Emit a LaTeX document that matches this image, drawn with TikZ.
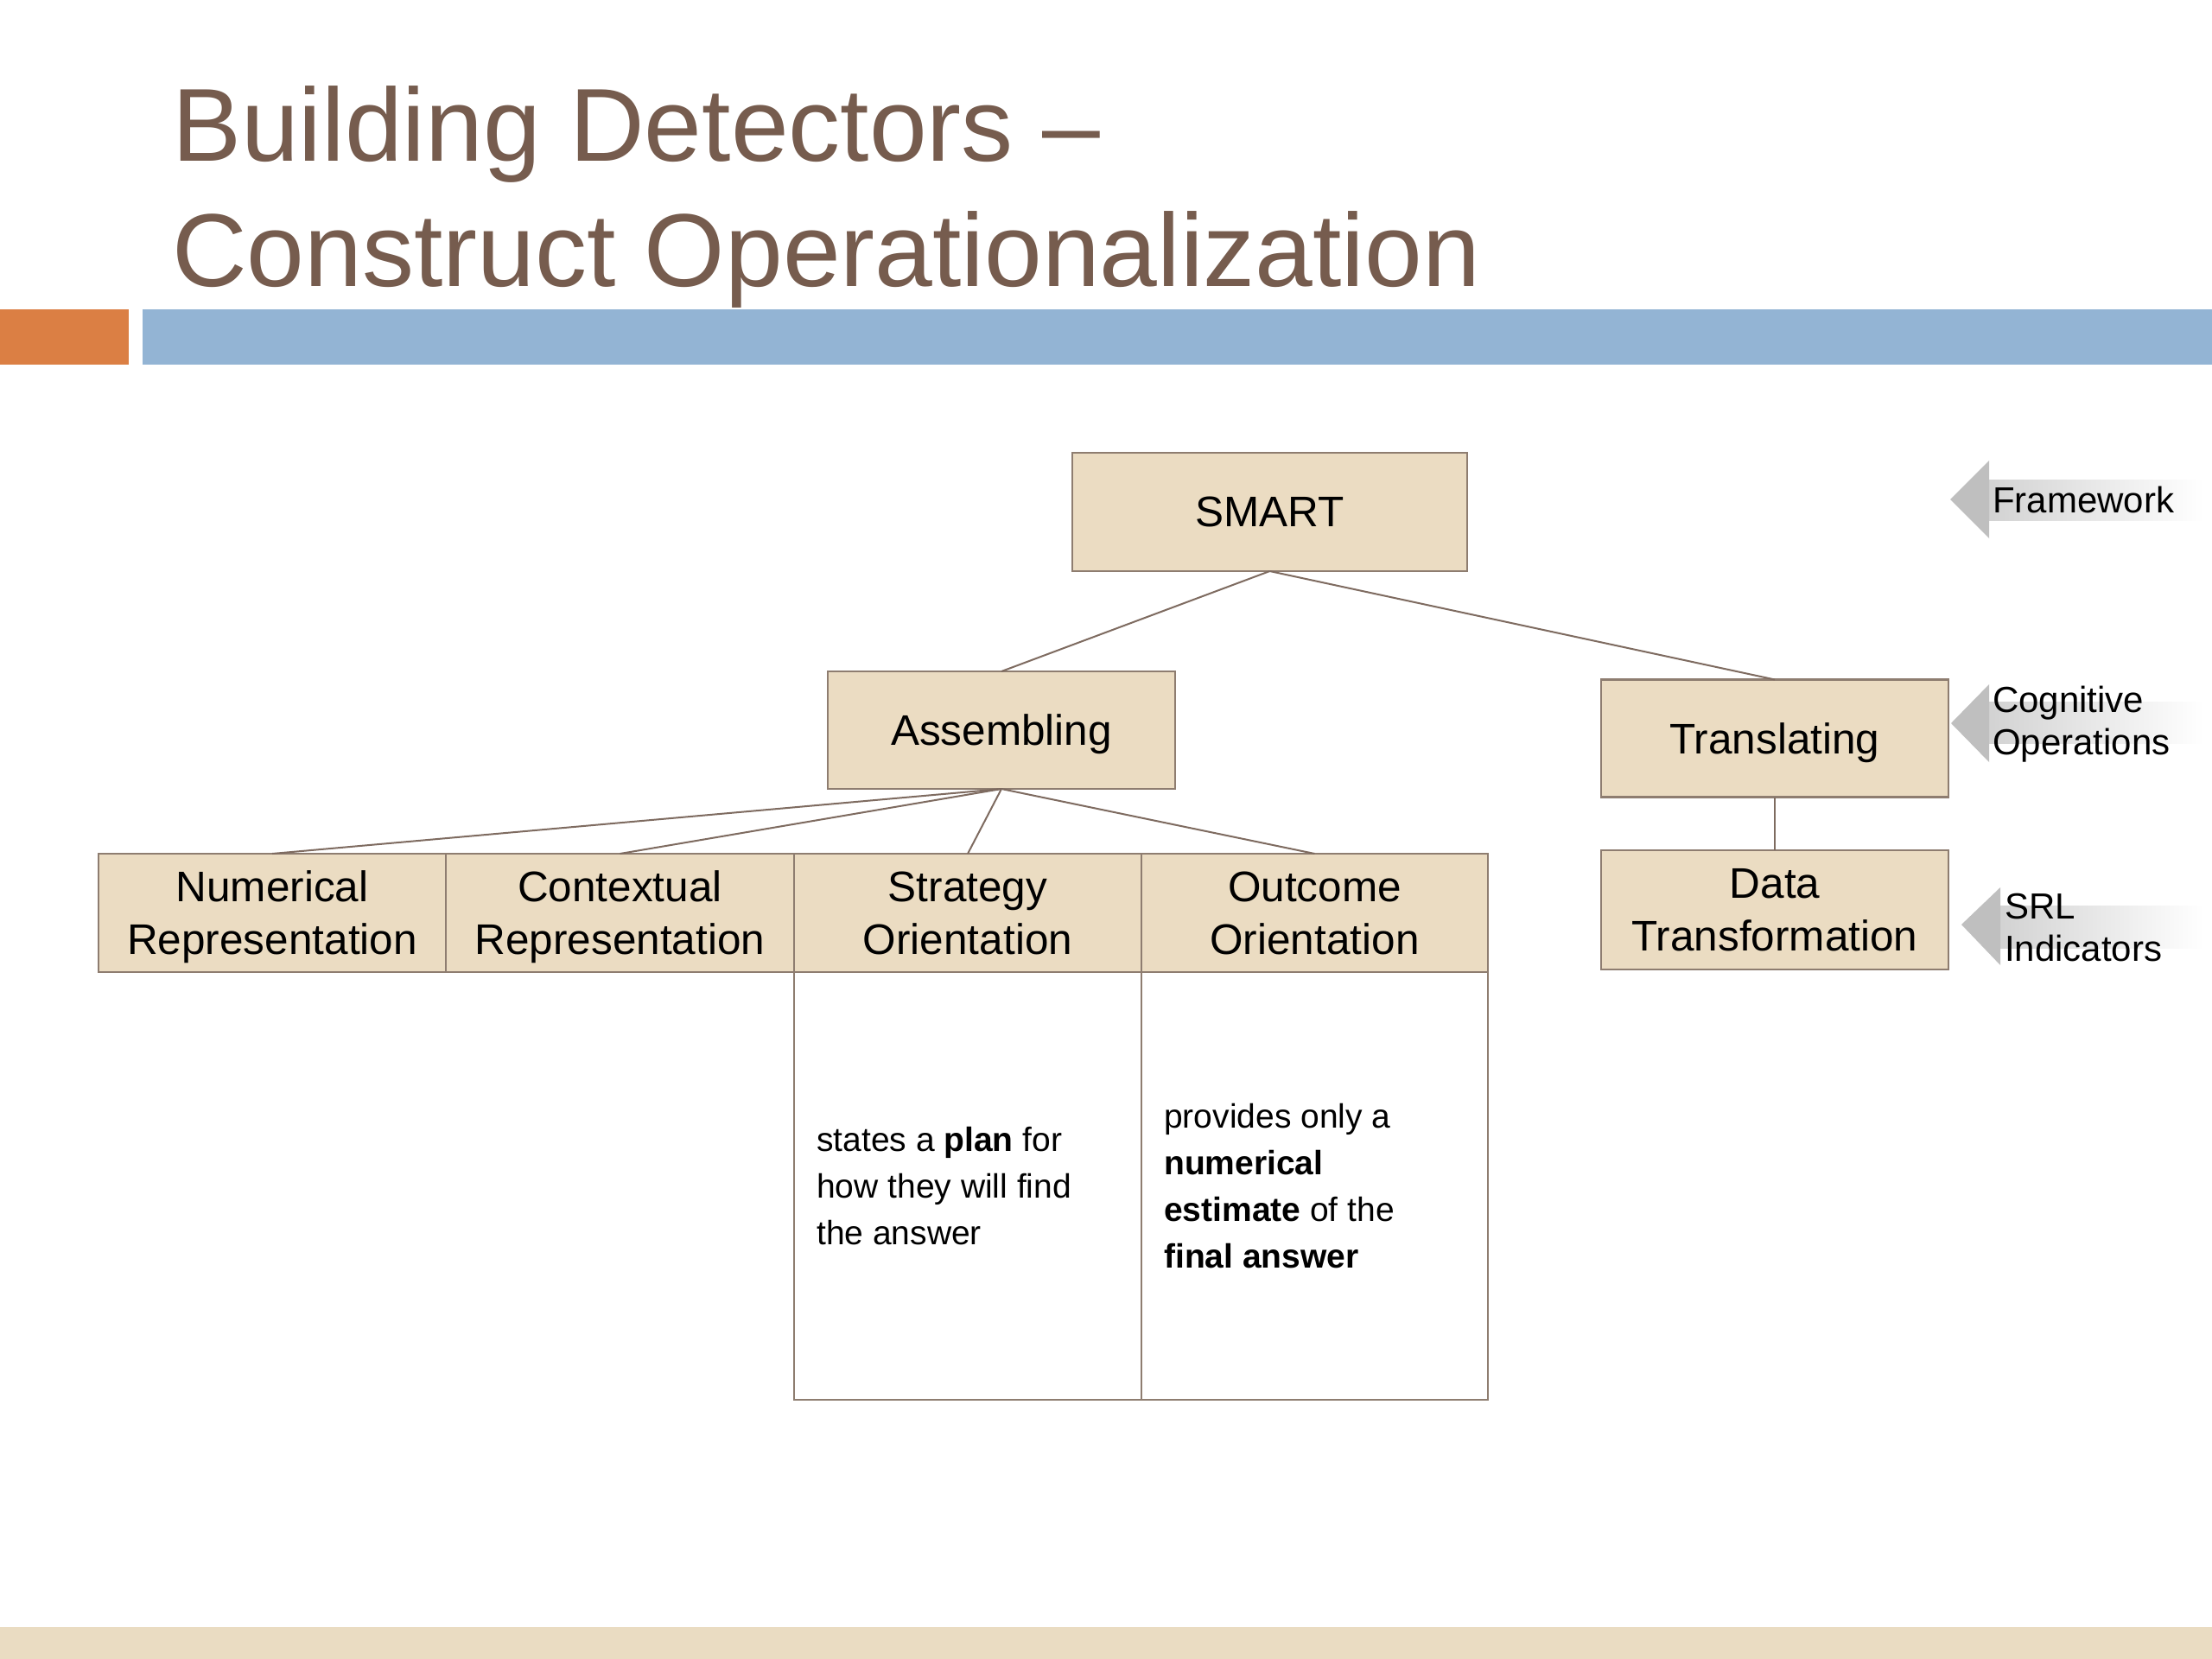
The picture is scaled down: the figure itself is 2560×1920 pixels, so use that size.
\documentclass[tikz,border=0pt]{standalone}
\usepackage{fontspec}
\setmainfont{Liberation Sans}
\definecolor{titlec}{HTML}{765C4E}
\definecolor{orangec}{HTML}{DB7F44}
\definecolor{bluec}{HTML}{93B4D4}
\definecolor{bandc}{HTML}{EADCC2}
\definecolor{boxfill}{HTML}{EBDCC2}
\definecolor{boxline}{HTML}{8E7D70}
\definecolor{linkc}{HTML}{7E6B60}
\tikzset{
  box/.style={draw=boxline, fill=boxfill, line width=2.5pt, inner sep=0pt, outer sep=0pt,
    font=\fontsize{49.5}{61}\selectfont, align=center, text=black, text depth=0pt},
  lowbox/.style={draw=boxline, fill=white, line width=2.5pt, inner sep=0pt, outer sep=0pt},
  desc/.style={font=\fontsize{39}{54}\selectfont, align=left, anchor=west, inner sep=0pt, text=black},
  link/.style={draw=linkc, line width=2pt},
  lab/.style={font=\fontsize{42}{49}\selectfont, align=left, inner sep=0pt, text=black},
  headc/.style={fill=gray!50},
  bodyc/.style={left color=gray!35, right color=white},
  titlestyle/.style={font=\fontsize{120}{145}\selectfont, align=left, inner sep=0pt, text=titlec}
}
\begin{document}
\begin{tikzpicture}[x=1pt,y=-1pt]
\useasboundingbox (0,0) rectangle (2560,1920);
\fill[white] (0,0) rectangle (2560,1920);
% decoration bars
\fill[orangec] (0,358) rectangle (149,422);
\fill[bluec] (165,358) rectangle (2560,422);
\fill[bandc] (0,1883) rectangle (2560,1920);
% title (base anchor = baseline of last line)
\node[titlestyle, anchor=base west] (title) at (199,331) {Building Detectors –\\Construct Operationalization};
% tree
\node[box, minimum width=457pt, minimum height=137pt] (smart) at (1469.5,592.5) {SMART};
\node[box, minimum width=402pt, minimum height=136pt] (assem) at (1159,845) {Assembling};
\node[box, minimum width=402pt, minimum height=136pt] (trans) at (2054,854.5) {Translating};
\node[box, minimum width=402pt, minimum height=138pt] (data) at (2054,1053) {Data\\Transformation};
\node[lowbox, minimum width=402pt, minimum height=495pt] (stratlow) at (1120,1372.5) {};
\node[lowbox, minimum width=401pt, minimum height=495pt] (outlow) at (1521.5,1372.5) {};
\node[box, minimum width=402pt, minimum height=137pt] (num) at (315,1056.5) {Numerical\\Representation};
\node[box, minimum width=403pt, minimum height=137pt] (ctx) at (717.5,1056.5) {Contextual\\Representation};
\node[box, minimum width=402pt, minimum height=137pt] (strat) at (1120,1056.5) {Strategy\\Orientation};
\node[box, minimum width=401pt, minimum height=137pt] (outc) at (1521.5,1056.5) {Outcome\\Orientation};
\node[desc] (stratd) at ([xshift=26pt]stratlow.west) {states a \textbf{plan} for\\how they will find\\the answer};
\node[desc] (outd) at ([xshift=26pt]outlow.west) {provides only a\\\textbf{numerical}\\\textbf{estimate} of the\\\textbf{final answer}};
% connectors
\draw[link] (smart.south) -- (assem.north);
\draw[link] (smart.south) -- (trans.north);
\draw[link] (assem.south) -- (num.north);
\draw[link] (assem.south) -- (ctx.north);
\draw[link] (assem.south) -- (strat.north);
\draw[link] (assem.south) -- (outc.north);
\draw[link] (trans.south) -- (data.north);
% side arrows
\shade[bodyc] (2302,555) rectangle (2550,602);
\fill[headc] (2257,578) -- (2302,533) -- (2302,623) -- cycle;
\shade[bodyc] (2302,812) rectangle (2550,860);
\fill[headc] (2258,837) -- (2302,792) -- (2302,882) -- cycle;
\shade[bodyc] (2315,1048) rectangle (2550,1097);
\fill[headc] (2270,1070) -- (2315,1027) -- (2315,1117) -- cycle;
\node[lab, anchor=base west] (fw) at (2306,593) {Framework};
\node[lab, anchor=base west] (cog) at (2306,873) {Cognitive\\Operations};
\node[lab, anchor=base west] (srl) at (2320,1112) {SRL\\Indicators};
\end{tikzpicture}
\end{document}
